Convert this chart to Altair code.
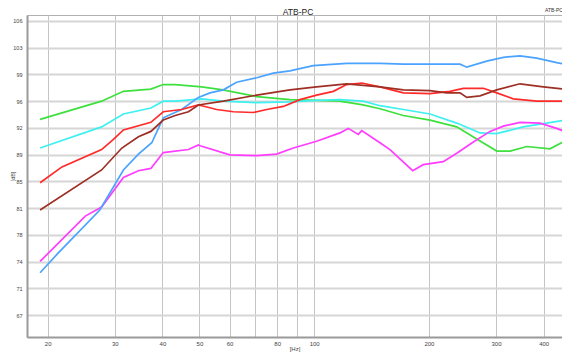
import altair as alt
import pandas as pd

# frequencies (Hz) and levels (dB)
green_hz = [19.1, 27.7, 31.6, 37.3, 40.2, 43.2, 50.7, 57.6, 70.7, 86.4, 101.5, 116.9, 134.3, 148.8, 171.4, 201.3, 236.6, 267.0, 301.4, 326.6, 361.2, 415.7, 469.0]
green_db = [93.2, 95.6, 96.9, 97.2, 97.8, 97.8, 97.5, 97.1, 96.2, 95.8, 95.7, 95.6, 95.1, 94.6, 93.7, 93.1, 92.2, 90.6, 89.0, 89.0, 89.6, 89.3, 90.7]

cyan_hz = [19.1, 27.7, 31.6, 37.3, 40.2, 43.2, 50.7, 57.8, 70.7, 86.4, 101.5, 116.9, 134.3, 148.8, 171.4, 201.3, 236.6, 272.4, 301.4, 353.2, 407.4, 469.0]
cyan_db = [89.4, 92.2, 93.9, 94.7, 95.6, 95.6, 95.9, 95.6, 95.4, 95.5, 95.7, 95.8, 95.6, 95.0, 94.5, 93.9, 92.7, 91.4, 91.3, 92.2, 92.7, 93.2]

magenta_hz = [19.1, 25.1, 27.7, 31.6, 34.6, 37.3, 40.2, 46.8, 49.7, 50.2, 60.1, 70.7, 79.7, 88.2, 101.5, 116.9, 122.9, 130.6, 133.3, 148.8, 158.1, 181.4, 193.3, 218.2, 236.6, 261.6, 289.4, 313.6, 346.8, 391.2, 432.8, 469.0]
magenta_db = [74.4, 80.4, 81.6, 85.5, 86.4, 86.7, 88.8, 89.2, 89.8, 89.7, 88.5, 88.4, 88.6, 89.4, 90.3, 91.4, 92.0, 91.2, 91.7, 90.1, 89.2, 86.4, 87.2, 87.6, 88.7, 90.2, 91.6, 92.3, 92.8, 92.7, 92.0, 91.3]

blue_hz = [19.1, 21.3, 27.4, 31.6, 34.6, 37.5, 40.2, 44.9, 49.7, 53.3, 57.8, 62.6, 70.7, 78.1, 86.4, 99.4, 121.7, 148.8, 171.4, 241.4, 251.4, 283.6, 313.6, 346.8, 383.6, 432.8, 469.0]
blue_db = [72.9, 75.5, 81.2, 86.5, 88.6, 90.1, 93.4, 94.5, 96.1, 96.7, 97.1, 98.1, 98.7, 99.3, 99.6, 100.3, 100.6, 100.6, 100.5, 100.5, 100.1, 100.9, 101.4, 101.6, 101.3, 100.7, 100.4]

red_hz = [19.1, 21.8, 27.7, 29.7, 31.6, 37.3, 40.2, 44.9, 49.7, 51.7, 55.5, 61.4, 69.2, 75.1, 83.0, 91.8, 101.5, 112.3, 121.7, 133.3, 148.8, 171.4, 201.3, 227.2, 246.3, 277.9, 301.4, 333.0, 383.6, 469.0]
red_db = [84.8, 86.9, 89.2, 90.5, 91.8, 92.8, 94.2, 94.5, 95.1, 94.9, 94.5, 94.2, 94.1, 94.5, 94.9, 95.8, 96.4, 96.9, 97.8, 98.0, 97.5, 96.7, 96.6, 96.9, 97.3, 97.3, 96.7, 95.9, 95.6, 95.6]

brown_hz = [19.1, 27.7, 31.3, 34.6, 37.3, 40.2, 43.2, 46.8, 49.7, 57.8, 70.7, 86.4, 101.5, 121.7, 148.8, 171.4, 201.3, 222.8, 241.4, 251.4, 272.4, 301.4, 346.8, 399.2, 469.0]
brown_db = [81.2, 86.5, 89.4, 90.9, 91.6, 93.1, 93.7, 94.2, 95.1, 95.6, 96.4, 97.1, 97.5, 97.9, 97.5, 97.1, 97.0, 96.7, 96.7, 96.1, 96.3, 97.1, 97.9, 97.5, 97.1]

series_names = ["green", "cyan", "magenta", "blue", "red", "brown"]
series_colors = ["#3ee03e", "#3ef0f0", "#ff3cff", "#4aa3ff", "#ff2a2a", "#9e2f24"]

x_ticks = [20, 30, 40, 50, 60, 70, 80, 90, 100, 200, 300, 400]
y_ticks = [67.3, 70.84, 74.38, 77.92, 81.46, 85.0, 88.54, 92.08, 95.62, 99.16, 102.7, 106.24]

title_text = "ATB-PC"

rows = []
for name, hz, db in [("green", green_hz, green_db), ("cyan", cyan_hz, cyan_db),
                     ("magenta", magenta_hz, magenta_db), ("blue", blue_hz, blue_db),
                     ("red", red_hz, red_db), ("brown", brown_hz, brown_db)]:
    for i, (f, d) in enumerate(zip(hz, db)):
        rows.append({"series": name, "order": i, "hz": f, "db": d})
df = pd.DataFrame(rows)

W, H = 535, 322

lines = alt.Chart(df).mark_line(strokeWidth=1.7, clip=True).encode(
    x=alt.X("hz:Q", scale=alt.Scale(type="log", domain=[17.65, 446.9], nice=False),
            axis=alt.Axis(values=x_ticks, title="[Hz]",
                          labelExpr="(datum.value == 70 || datum.value == 90) ? '' : datum.label",
                          format="d", labelFontSize=6, titleFontSize=6, titleFontWeight="normal",
                          labelPadding=3, titlePadding=-1, ticks=False,
                          labelColor="#444", titleColor="#444",
                          domainColor="#9a9a9a", domainWidth=2,
                          gridColor="#c4c4c4", gridWidth=1)),
    y=alt.Y("db:Q", scale=alt.Scale(domain=[64.4, 107], nice=False, zero=False),
            axis=alt.Axis(values=y_ticks, format=".0f", title="[dB]",
                          labelFontSize=5.5, titleFontSize=5.5, titleFontWeight="normal",
                          labelPadding=5, titleX=-11.5, titleBaseline="bottom", ticks=False,
                          labelColor="#444", titleColor="#444",
                          domainColor="#9a9a9a", domainWidth=2,
                          gridColor="#d6d6d6", gridWidth=2)),
    color=alt.Color("series:N", scale=alt.Scale(domain=series_names, range=series_colors), legend=None),
    detail="series:N",
    order="order:Q",
)

title_df = pd.DataFrame({"t": [title_text]})
title_mark = alt.Chart(title_df).mark_text(fontSize=8.5, baseline="alphabetic", align="center",
                                           color="#222", font="Liberation Sans").encode(
    text="t:N", x=alt.value(271), y=alt.value(-0.5))
corner_mark = alt.Chart(title_df).mark_text(fontSize=5, baseline="middle", align="left",
                                            color="#333", font="Liberation Sans").encode(
    text="t:N", x=alt.value(518), y=alt.value(-5))

chart = alt.layer(lines, title_mark, corner_mark).properties(
    width=W, height=H,
    autosize=alt.AutoSizeParams(type="none"),
    padding={"left": 19, "top": 7, "right": 0, "bottom": 18},
).configure_view(stroke="#b0b0b0", strokeWidth=1).configure_axis(
    labelFont="Liberation Sans", titleFont="Liberation Sans"
)

chart.save("out.html", embed_options={"renderer": "svg", "actions": False})
